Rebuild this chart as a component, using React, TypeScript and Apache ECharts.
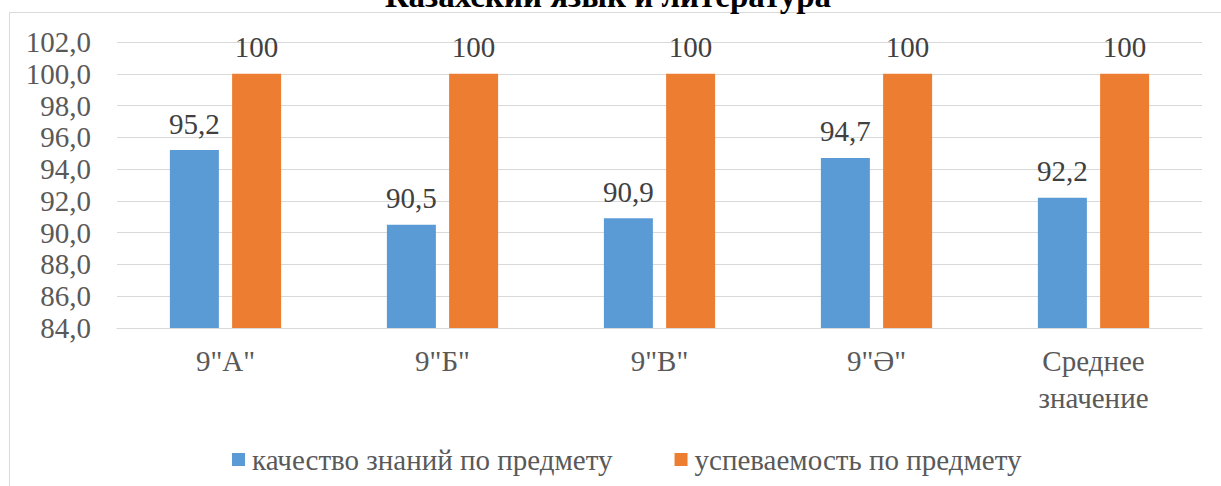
import React, { useEffect, useRef } from "react";
import * as echarts from "echarts";

const titleText = "Казахский язык и литература";
const categories = ['9"А"', '9"Б"', '9"В"', '9"Ә"', "Среднее\nзначение"];
const qualityName = "качество знаний по предмету";
const progressName = "успеваемость по предмету";
const qualityValues = [95.2, 90.5, 90.9, 94.7, 92.2];
const progressValues = [100, 100, 100, 100, 100];
const yMin = 84;
const yMax = 102;
const yStep = 2;

const FONT = "Liberation Serif";
const FS = 29;

const fmtComma = (v: number, digits?: number) => {
  const s = digits === undefined ? String(v) : v.toFixed(digits);
  return s.replace(".", ",");
};

export default function App() {
  const ref = useRef<HTMLDivElement>(null);
  useEffect(() => {
    if (!ref.current) return;
    const chart = echarts.init(ref.current, undefined, { renderer: "svg" });
    chart.setOption({
      animation: false,
      backgroundColor: "#ffffff",
      textStyle: { fontFamily: FONT },
      graphic: [
        {
          type: "line",
          shape: { x1: 9.5, y1: 12.5, x2: 1221, y2: 12.5 },
          style: { stroke: "#d9d9d9", lineWidth: 1 },
          silent: true,
        },
        {
          type: "line",
          shape: { x1: 9.5, y1: 12.5, x2: 9.5, y2: 486 },
          style: { stroke: "#d9d9d9", lineWidth: 1 },
          silent: true,
        },
        {
          type: "text",
          x: 608,
          y: -4,
          style: {
            text: titleText,
            fontFamily: FONT,
            fontSize: 33,
            fontWeight: "bold",
            fill: "#000000",
            align: "center",
            verticalAlign: "middle",
          },
          silent: true,
        },
      ],
      legend: {
        left: 227,
        top: 440,
        itemWidth: 13,
        itemHeight: 13,
        itemGap: 62,
        icon: "rect",
        textStyle: { fontFamily: FONT, fontSize: FS, color: "#595959", padding: [0, 0, 0, 2] },
        data: [qualityName, progressName],
      },
      grid: { left: 117, right: 19, top: 42, bottom: 158, containLabel: false },
      xAxis: {
        type: "category",
        data: categories,
        axisLine: { show: true, lineStyle: { color: "#d9d9d9", width: 1 } },
        axisTick: { show: false },
        axisLabel: {
          fontFamily: FONT,
          fontSize: FS,
          color: "#595959",
          margin: 14,
          lineHeight: 37,
          interval: 0,
        },
      },
      yAxis: {
        type: "value",
        min: yMin,
        max: yMax,
        interval: yStep,
        axisLine: { show: false },
        axisTick: { show: false },
        splitLine: { show: true, lineStyle: { color: "#d9d9d9", width: 1 } },
        axisLabel: {
          fontFamily: FONT,
          fontSize: FS,
          color: "#595959",
          margin: 26,
          formatter: (v: number) => fmtComma(v, 1),
        },
      },
      series: [
        {
          name: qualityName,
          type: "bar",
          data: qualityValues,
          barWidth: 49,
          barGap: "27%",
          itemStyle: { color: "#5b9bd5" },
          label: {
            show: true,
            position: "top",
            distance: 12,
            fontFamily: FONT,
            fontSize: FS,
            color: "#404040",
            formatter: (p: any) => fmtComma(p.value),
          },
        },
        {
          name: progressName,
          type: "bar",
          data: progressValues,
          barWidth: 49,
          barGap: "27%",
          itemStyle: { color: "#ed7d31" },
          label: {
            show: true,
            position: "top",
            distance: 12,
            fontFamily: FONT,
            fontSize: FS,
            color: "#404040",
            formatter: (p: any) => fmtComma(p.value),
          },
        },
      ],
    });
    return () => chart.dispose();
  }, []);
  return (
    <div
      ref={ref}
      style={{ position: "fixed", left: 0, top: 0, width: 1221, height: 486 }}
    />
  );
}
